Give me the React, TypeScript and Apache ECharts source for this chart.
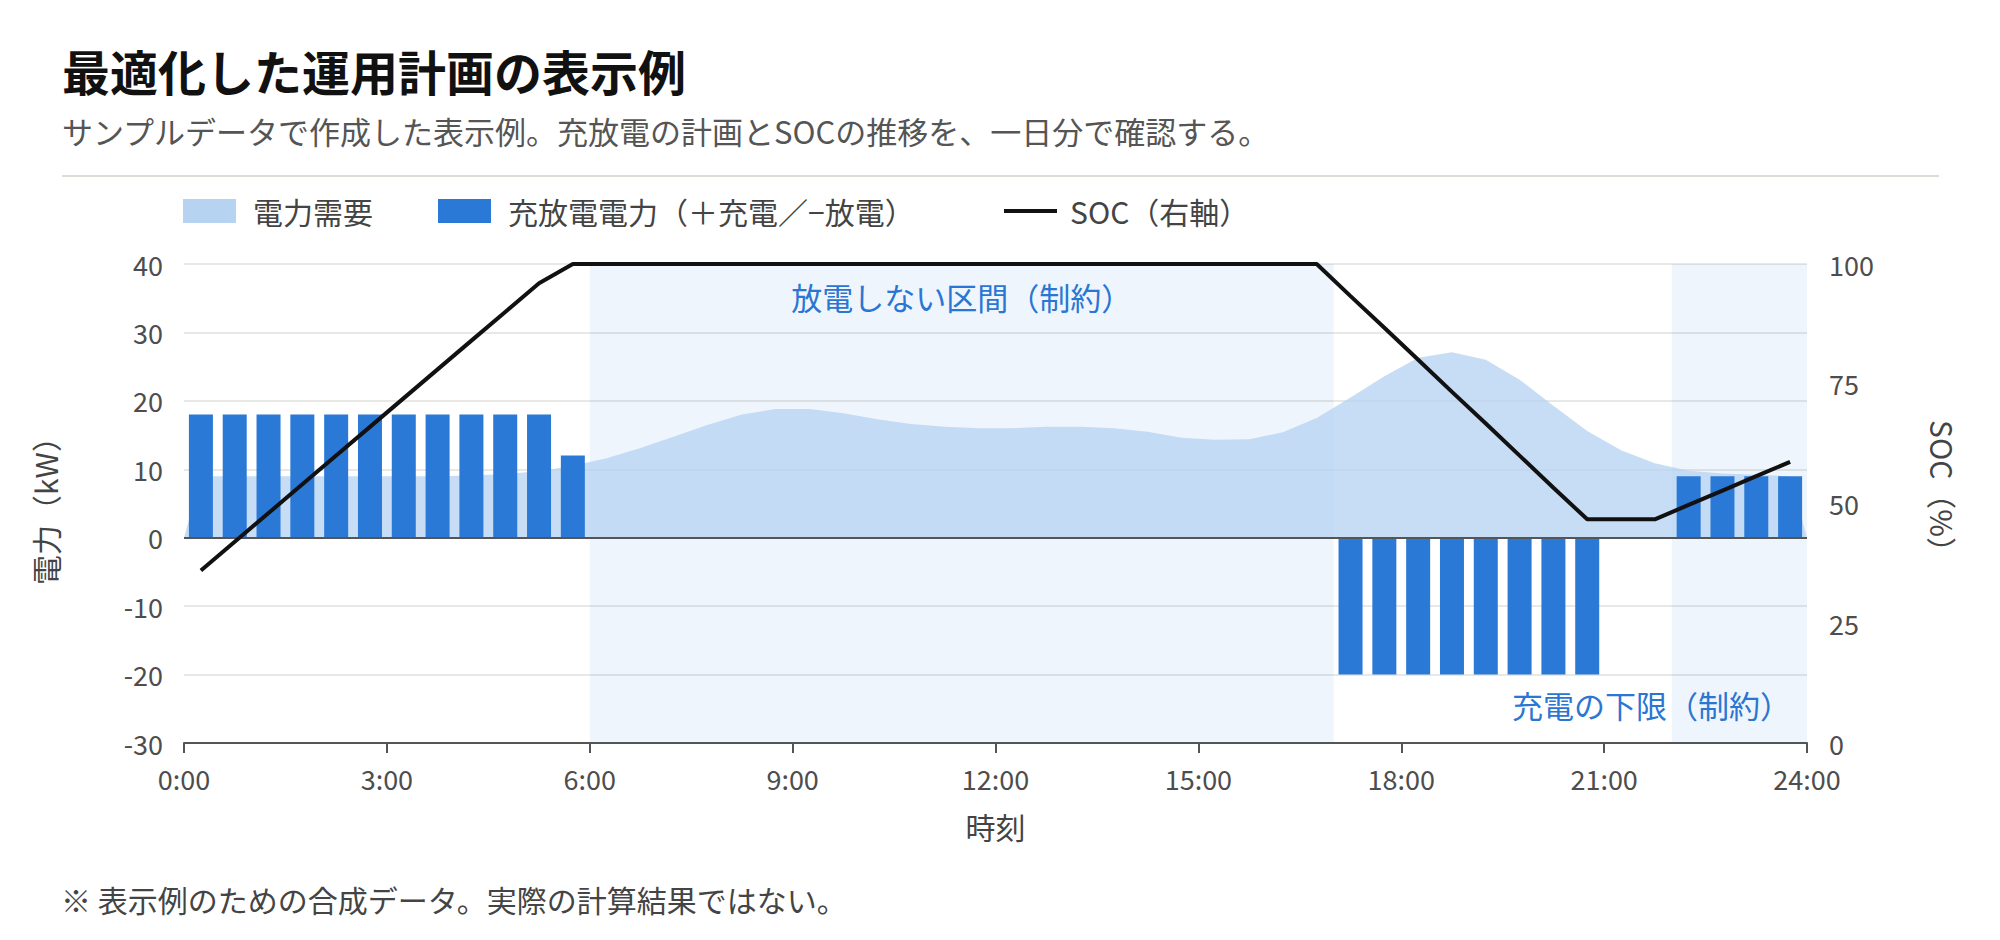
import { useEffect, useRef } from 'react'
import * as echarts from 'echarts'

const TITLE = '最適化した運用計画の表示例'
const SUBTITLE = 'サンプルデータで作成した表示例。充放電の計画とSOCの推移を、一日分で確認する。'
const NOTE = '※ 表示例のための合成データ。実際の計算結果ではない。'

const DEMAND_NAME = '電力需要'
const POWER_NAME = '充放電電力（＋充電／−放電）'
const SOC_NAME = 'SOC（右軸）'

// 30分コマの中心時刻（0:15 〜 23:45）
const SLOTS = Array.from({ length: 48 }, (_, i) => 0.25 + 0.5 * i)

// 電力需要 (kW)、各コマ中心
const DEMAND_KW = [
  9.0, 9.0, 9.0, 9.0, 9.0, 9.0, 9.0, 9.0,
  9.1, 9.3, 9.7, 10.5,
  11.6, 13.1, 14.8, 16.5,
  18.0, 18.8, 18.8, 18.2,
  17.3, 16.6, 16.2, 16.0,
  16.0, 16.2, 16.2, 16.0,
  15.5, 14.6, 14.3, 14.4,
  15.4, 17.5, 20.5, 23.6,
  26.3, 27.1, 26.0, 23.1,
  19.3, 15.6, 12.8, 10.9,
  9.8, 9.4, 9.2, 9.0,
]
const DEMAND_EDGE_KW = 0

// 充放電電力 (kW)、+充電 / -放電
const POWER_KW = [
  18, 18, 18, 18, 18, 18, 18, 18, 18, 18, 18, 12,
  null, null, null, null, null, null, null, null, null, null, null,
  null, null, null, null, null, null, null, null, null, null, null,
  -20, -20, -20, -20, -20, -20, -20, -20,
  null, null,
  9, 9, 9, 9,
]

// SOC (%)
const SOC_PCT = [
  36, 42, 48, 54, 60, 66, 72, 78, 84, 90, 96, 100,
  100, 100, 100, 100, 100, 100, 100, 100, 100, 100, 100,
  100, 100, 100, 100, 100, 100, 100, 100, 100, 100, 100,
  93.3, 86.7, 80, 73.3, 66.7, 60, 53.3, 46.7,
  46.7, 46.7,
  49.7, 52.7, 55.7, 58.7,
]

const NO_DISCHARGE = { from: 6, to: 17, label: '放電しない区間（制約）' }
const CHARGE_FLOOR = { from: 22, to: 24, label: '充電の下限（制約）' }

const FONT = '"Noto Sans CJK JP", "Noto Sans", sans-serif'
const BLUE = '#2b79d6'
const LIGHT = '#b6d4f2'
const LABEL_BLUE = '#2a76d2'

export default function App() {
  const elRef = useRef<HTMLDivElement>(null)

  useEffect(() => {
    document.body.style.margin = '0'
    if (!elRef.current) return
    const chart = echarts.init(elRef.current, null, { renderer: 'svg' })

    const legendText = (pad: number) => ({ fontSize: 30, color: '#444', padding: [0, 0, 0, pad] })

    chart.setOption({
      animation: false,
      textStyle: { fontFamily: FONT },
      graphic: [
        {
          type: 'text',
          x: 62,
          y: 70,
          style: { text: TITLE, fontSize: 48, fontWeight: 'bold', fontFamily: FONT, fill: '#111', align: 'left', verticalAlign: 'middle' },
        },
        {
          type: 'text',
          x: 62,
          y: 130,
          style: { text: SUBTITLE, fontSize: 31, fontFamily: FONT, fill: '#555', align: 'left', verticalAlign: 'middle' },
        },
        {
          type: 'line',
          shape: { x1: 62, y1: 176, x2: 1939, y2: 176 },
          style: { stroke: '#dcdcd7', lineWidth: 2 },
        },
        {
          type: 'text',
          x: 61,
          y: 899,
          style: { text: NOTE, fontSize: 30, fontFamily: FONT, fill: '#444', align: 'left', verticalAlign: 'middle' },
        },
      ],
      legend: [
        {
          left: 183, top: 196, padding: 0, itemWidth: 53, itemHeight: 24,
          data: [{ name: DEMAND_NAME, icon: 'rect' }], textStyle: legendText(12),
        },
        {
          left: 438, top: 196, padding: 0, itemWidth: 53, itemHeight: 24,
          data: [{ name: POWER_NAME, icon: 'rect' }], textStyle: legendText(12),
        },
        {
          left: 1004, top: 196, padding: 0, itemWidth: 53, itemHeight: 4,
          data: [{ name: SOC_NAME, icon: 'rect' }], textStyle: legendText(8),
        },
      ],
      grid: { left: 184, right: 193, top: 264, bottom: 197 },
      xAxis: {
        type: 'value',
        min: 0,
        max: 24,
        interval: 3,
        name: '時刻',
        nameLocation: 'middle',
        nameGap: 68,
        nameTextStyle: { fontSize: 30, color: '#444' },
        axisLine: { onZero: false, lineStyle: { color: '#555', width: 2 } },
        axisTick: { show: true, length: 10, lineStyle: { color: '#555', width: 2 } },
        axisLabel: { fontSize: 27, color: '#4d4d4d', margin: 22, formatter: (v: number) => `${v}:00` },
        splitLine: { show: false },
      },
      yAxis: [
        {
          type: 'value',
          min: -30,
          max: 40,
          interval: 10,
          name: '電力（kW）',
          nameLocation: 'middle',
          nameGap: 124,
          nameTextStyle: { fontSize: 30, color: '#444' },
          axisLine: { show: false },
          axisTick: { show: false },
          axisLabel: { fontSize: 27, color: '#4d4d4d', margin: 21 },
          splitLine: { lineStyle: { color: '#e8e8e4', width: 2 } },
        },
        {
          type: 'value',
          min: 0,
          max: 100,
          interval: 25,
          position: 'right',
          name: 'SOC（%）',
          nameLocation: 'middle',
          nameRotate: -90,
          nameGap: 121,
          nameTextStyle: { fontSize: 30, color: '#444', padding: [0, 20, 0, 0] },
          axisLine: { show: false },
          axisTick: { show: false },
          axisLabel: { fontSize: 27, color: '#4d4d4d', margin: 22 },
          splitLine: { show: false },
        },
      ],
      series: [
        {
          name: DEMAND_NAME,
          type: 'line',
          yAxisIndex: 0,
          z: 2,
          symbol: 'none',
          data: [
            [0, DEMAND_EDGE_KW],
            ...SLOTS.map((t, i) => [t, DEMAND_KW[i]]),
            [24, DEMAND_EDGE_KW],
          ],
          lineStyle: { width: 0 },
          itemStyle: { color: LIGHT },
          areaStyle: { color: LIGHT, opacity: 0.78 },
          silent: true,
        },
        {
          name: POWER_NAME,
          type: 'bar',
          yAxisIndex: 0,
          z: 2,
          barWidth: 24,
          itemStyle: { color: BLUE },
          data: SLOTS.map((t, i) => [t, POWER_KW[i] === null ? '-' : POWER_KW[i]]),
          markArea: {
            z: 1,
            silent: true,
            itemStyle: { color: 'rgba(45,125,220,0.075)' },
            label: { color: LABEL_BLUE, fontSize: 31, fontFamily: FONT },
            data: [
              [
                {
                  xAxis: NO_DISCHARGE.from,
                  name: NO_DISCHARGE.label,
                  label: { position: 'insideTop', distance: 5, offset: [0, 12] },
                },
                { xAxis: NO_DISCHARGE.to },
              ],
              [
                {
                  xAxis: CHARGE_FLOOR.from,
                  name: CHARGE_FLOOR.label,
                  label: { position: 'insideBottomRight', distance: 5, offset: [-11, -18] },
                },
                { xAxis: CHARGE_FLOOR.to },
              ],
            ],
          },
          markLine: {
            z: 3,
            silent: true,
            symbol: 'none',
            label: { show: false },
            lineStyle: { color: '#555', width: 2, type: 'solid' },
            data: [{ yAxis: 0 }],
          },
        },
        {
          name: SOC_NAME,
          type: 'line',
          yAxisIndex: 1,
          z: 4,
          symbol: 'none',
          data: SLOTS.map((t, i) => [t, SOC_PCT[i]]),
          lineStyle: { color: '#111', width: 4 },
          itemStyle: { color: '#111' },
        },
      ],
    })

    return () => chart.dispose()
  }, [])

  return <div ref={elRef} style={{ width: 2000, height: 940 }} />
}
